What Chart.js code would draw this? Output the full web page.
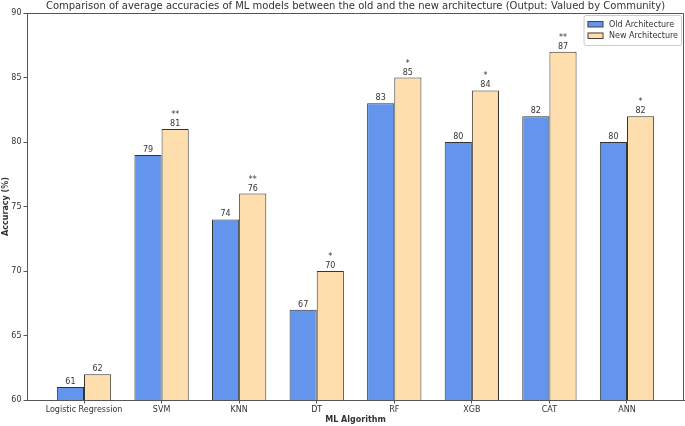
<!DOCTYPE html>
<html>
<head>
<meta charset="utf-8">
<script src="https://cdn.jsdelivr.net/npm/chart.js@4.4.1/dist/chart.umd.min.js"></script>
<style>
  html, body { margin: 0; padding: 0; background: #fff; }
  #wrap { width: 685px; height: 426px; }
</style>
</head>
<body>
<div id="wrap"><canvas id="chart"></canvas></div>
<script>
const algorithms = ['Logistic Regression', 'SVM', 'KNN', 'DT', 'RF', 'XGB', 'CAT', 'ANN'];
const oldAccuracy = [61, 79, 74, 67, 83, 80, 82, 80];
const newAccuracy = [62, 81, 76, 70, 85, 84, 87, 82];
const significance = ['', '**', '**', '*', '*', '*', '**', '*'];
const yTicks = [60, 65, 70, 75, 80, 85, 90];

const FONT = '"DejaVu Sans", sans-serif';
const TEXT = '#333';
const SPINE = '#555';
const OLD_COLOR = '#6495ED';
const NEW_COLOR = '#FFDEAD';

const annotationPlugin = {
  id: 'annotations',
  afterDatasetsDraw(chart) {
    const { ctx } = chart;
    ctx.save();
    ctx.fillStyle = TEXT;
    ctx.textAlign = 'center';
    ctx.textBaseline = 'alphabetic';
    ctx.font = `8px ${FONT}`;
    chart.data.datasets.forEach((dataset, di) => {
      chart.getDatasetMeta(di).data.forEach((bar, i) => {
        ctx.fillText(String(dataset.data[i].y), bar.x, bar.y - 3);
        if (di === 1 && significance[i]) {
          ctx.fillText(significance[i], bar.x, bar.y - 12);
        }
      });
    });
    ctx.restore();
  },
  afterDraw(chart) {
    const { ctx, chartArea } = chart;
    ctx.save();

    // top and right spines
    ctx.strokeStyle = SPINE;
    ctx.lineWidth = 1;
    ctx.beginPath();
    ctx.moveTo(chartArea.left, chartArea.top + 0.5);
    ctx.lineTo(chartArea.right - 0.5, chartArea.top + 0.5);
    ctx.lineTo(chartArea.right - 0.5, chartArea.bottom);
    ctx.stroke();

    // title
    ctx.fillStyle = TEXT;
    ctx.textAlign = 'center';
    ctx.textBaseline = 'middle';
    ctx.font = `10px ${FONT}`;
    ctx.fillText(
      'Comparison of average accuracies of ML models between the old and the new architecture (Output: Valued by Community)',
      (chartArea.left + chartArea.right) / 2,
      6
    );

    // axis titles
    ctx.font = `bold 8px ${FONT}`;
    ctx.fillText('ML Algorithm', (chartArea.left + chartArea.right) / 2, 420);
    ctx.save();
    ctx.translate(6, (chartArea.top + chartArea.bottom) / 2);
    ctx.rotate(-Math.PI / 2);
    ctx.fillText('Accuracy (%)', 0, 0);
    ctx.restore();

    // legend
    const labels = [
      { text: 'Old Architecture', color: OLD_COLOR },
      { text: 'New Architecture', color: NEW_COLOR },
    ];
    ctx.font = `8px ${FONT}`;
    const textWidth = Math.max(...labels.map((l) => ctx.measureText(l.text).width));
    const boxW = 3 + 15.5 + 6 + textWidth + 4;
    const boxH = 30;
    const boxX = chartArea.right - 3 - boxW;
    const boxY = chartArea.top + 2;
    ctx.fillStyle = 'rgba(255,255,255,0.85)';
    ctx.strokeStyle = '#ccc';
    ctx.beginPath();
    ctx.roundRect(boxX + 0.5, boxY + 0.5, boxW, boxH, 2);
    ctx.fill();
    ctx.stroke();
    labels.forEach((l, i) => {
      const cy = boxY + 9 + i * 11.5;
      ctx.fillStyle = l.color;
      ctx.fillRect(boxX + 4, cy - 3, 15.5, 6);
      ctx.strokeStyle = '#444';
      ctx.strokeRect(boxX + 4.5, cy - 2.5, 15, 5.5);
      ctx.fillStyle = TEXT;
      ctx.textAlign = 'left';
      ctx.textBaseline = 'middle';
      ctx.fillText(l.text, boxX + 25.5, cy + 0.5);
    });

    ctx.restore();
  },
};

const chart = new Chart(document.getElementById('chart'), {
  type: 'bar',
  data: {
    datasets: [
      {
        label: 'Old Architecture',
        data: oldAccuracy.map((y, i) => ({ x: i, y })),
        backgroundColor: OLD_COLOR,
        borderColor: '#333',
        borderWidth: 1,
        borderSkipped: 'start',
      },
      {
        label: 'New Architecture',
        data: newAccuracy.map((y, i) => ({ x: i, y })),
        backgroundColor: NEW_COLOR,
        borderColor: '#333',
        borderWidth: 1,
        borderSkipped: 'start',
      },
    ],
  },
  options: {
    responsive: true,
    maintainAspectRatio: false,
    animation: false,
    devicePixelRatio: 1,
    categoryPercentage: 0.7,
    barPercentage: 1.0,
    layout: { padding: { top: 13, right: 1, left: 0, bottom: 0 } },
    plugins: {
      legend: { display: false },
      tooltip: { enabled: false },
      title: { display: false },
    },
    scales: {
      x: {
        type: 'linear',
        min: -0.735,
        max: 7.735,
        offset: false,
        afterFit(scale) { scale.height = 26; },
        afterBuildTicks(scale) {
          scale.ticks = algorithms.map((_, i) => ({ value: i }));
        },
        grid: { display: true, drawOnChartArea: false, drawTicks: true, tickLength: 3.5, color: SPINE, offset: false },
        border: { display: true, color: SPINE, width: 1 },
        ticks: {
          autoSkip: false,
          maxRotation: 0,
          padding: 2,
          color: TEXT,
          font: { family: FONT, size: 8 },
          callback: (value) => algorithms[value],
        },
      },
      y: {
        min: 60,
        max: 90,
        afterFit(scale) { scale.width = 27; },
        afterBuildTicks(scale) {
          scale.ticks = yTicks.map((v) => ({ value: v }));
        },
        grid: { display: true, drawOnChartArea: false, drawTicks: true, tickLength: 3.5, color: SPINE },
        border: { display: true, color: SPINE, width: 1 },
        ticks: {
          padding: 2,
          color: TEXT,
          font: { family: FONT, size: 8 },
        },
      },
    },
  },
  plugins: [annotationPlugin],
});
</script>
</body>
</html>
